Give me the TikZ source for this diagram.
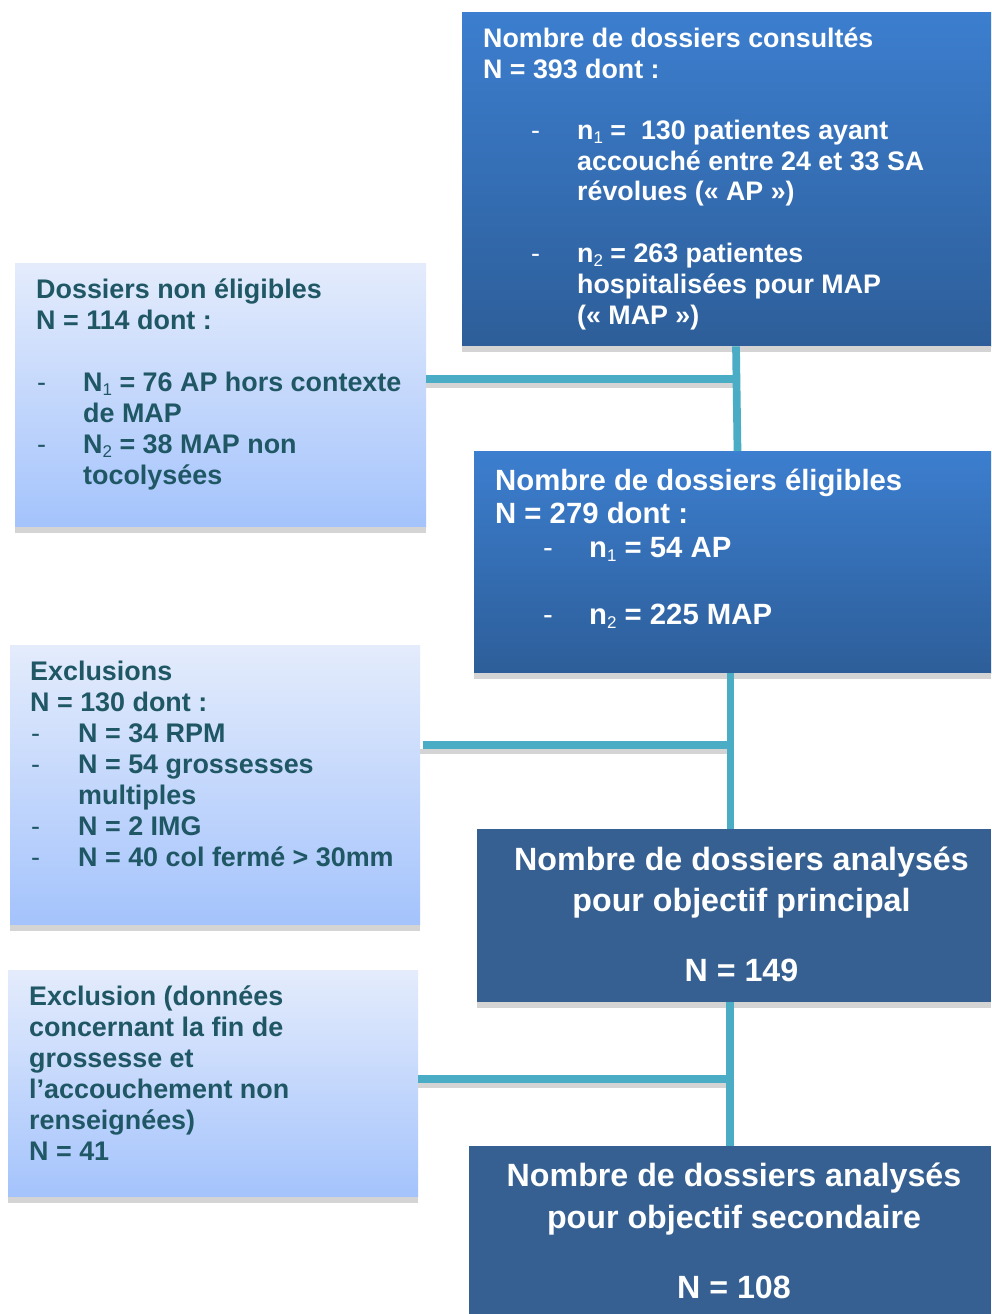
\documentclass[tikz,border=0pt]{standalone}
\usepackage{fontspec}
\setmainfont{Liberation Sans}
\definecolor{dbtop}{RGB}{60,126,207}
\definecolor{dbbot}{RGB}{45,94,153}
\definecolor{anblue}{RGB}{54,96,146}
\definecolor{lbtop}{RGB}{228,236,252}
\definecolor{lbbot}{RGB}{164,195,252}
\definecolor{tealtext}{RGB}{31,87,101}
\definecolor{shadowgray}{RGB}{212,212,212}
\definecolor{conncol}{RGB}{75,172,198}
\newcommand\sbn[1]{\raisebox{-0.14em}{\fontsize{17}{17}\selectfont\mdseries #1}}
\newcommand\dashit[2]{\hspace*{#1}\makebox[#2][l]{\mdseries -}}
\tikzset{
  darkbox/.style={rectangle, inner sep=0pt, draw=none, top color=dbtop, bottom color=dbbot, anchor=north west},
  flatbox/.style={rectangle, inner sep=0pt, draw=none, fill=anblue, anchor=north west},
  lightbox/.style={rectangle, inner sep=0pt, draw=none, top color=lbtop, bottom color=lbbot, anchor=north west},
  wtext/.style={text=white, inner sep=0pt},
  ttext/.style={text=tealtext, inner sep=0pt, anchor=north west, align=left},
  conn/.style={draw=conncol, line width=7.7pt},
  cshadow/.style={draw=shadowgray, line width=5pt},
  bshadow/.style={fill=shadowgray}
}
\begin{document}
\begin{tikzpicture}[x=1pt,y=-1pt]
\useasboundingbox (0,0) rectangle (991,1314);
\fill[white] (0,0) rectangle (991,1314);

% boxes
\node[darkbox, minimum width=529pt, minimum height=334pt] (b1) at (462,12) {};
\node[lightbox, minimum width=411pt, minimum height=264pt] (b2) at (15,263) {};
\node[darkbox, minimum width=517pt, minimum height=222pt] (b3) at (474,451) {};
\node[lightbox, minimum width=410pt, minimum height=280pt] (b4) at (10,645) {};
\node[flatbox, minimum width=514pt, minimum height=173pt] (b5) at (477,829) {};
\node[lightbox, minimum width=410pt, minimum height=227pt] (b6) at (8,970) {};
\node[flatbox, minimum width=522pt, minimum height=170pt] (b7) at (469,1146) {};

% box shadows
\foreach \b in {b1,b2,b3,b4,b5,b6}{
  \fill[bshadow] (\b.south west) rectangle ([yshift=-5.5pt]\b.south east);
}

% connectors
\coordinate (j1) at (736,379);
\coordinate (j2) at (730.5,745.3);
\coordinate (j3) at (730,1079.3);
\draw[cshadow] (b2.east |- 0,385.5) -- (j1 |- 0,385.5);
\draw[conn] (b2.east |- j1) -- (j1);
\draw[conn] (b1.south -| 736,0) -- (b3.north -| 737.5,0);
\draw[cshadow] (b4.east |- 0,751.5) -- (j2 |- 0,751.5);
\draw[conn] ([xshift=2.5pt]b4.east |- j2) -- (j2);
\draw[conn] (b3.south -| j2) -- (b5.north -| j2);
\draw[cshadow] (b6.east |- 0,1085.5) -- (j3 |- 0,1085.5);
\draw[conn] (b6.east |- j3) -- (j3);
\draw[conn] (b5.south -| j3) -- (b7.north -| j3);

% texts
\node[wtext, anchor=north west, align=left, font=\fontsize{26.8}{30.8}\selectfont\bfseries] (t1) at (483,26) {\strut Nombre de dossiers consultés\\
N = 393 dont :\\[30pt]
\dashit{48pt}{46pt}n\sbn{1} = \ 130 patientes ayant\\
\hspace*{94pt}accouché entre 24 et 33 SA\\
\hspace*{94pt}révolues (« AP »)\\[31pt]
\dashit{48pt}{46pt}n\sbn{2} = 263 patientes\\
\hspace*{94pt}hospitalisées pour MAP\\
\hspace*{94pt}(« MAP »)};

\node[ttext, font=\fontsize{26.9}{31}\selectfont\bfseries] (t2) at (36,276.6) {\strut Dossiers non éligibles\\
N = 114 dont :\\[31pt]
\dashit{1pt}{46pt}N\sbn{1} = 76 AP hors contexte\\
\hspace*{47pt}de MAP\\
\dashit{1pt}{46pt}N\sbn{2} = 38 MAP non\\
\hspace*{47pt}tocolysées};

\node[wtext, anchor=north west, align=left, font=\fontsize{29.3}{33.5}\selectfont\bfseries] (t3) at (495,466.5) {\strut Nombre de dossiers éligibles\\
N = 279 dont :\\
\dashit{48pt}{46pt}n\sbn{1} = 54 AP\\[33.5pt]
\dashit{48pt}{46pt}n\sbn{2} = 225 MAP};

\node[ttext, font=\fontsize{26.9}{31}\selectfont\bfseries] (t4) at (30,658.3) {\strut Exclusions\\
N = 130 dont :\\
\dashit{1pt}{47pt}N = 34 RPM\\
\dashit{1pt}{47pt}N = 54 grossesses\\
\hspace*{48pt}multiples\\
\dashit{1pt}{47pt}N = 2 IMG\\
\dashit{1pt}{47pt}N = 40 col fermé > 30mm};

\node[wtext, anchor=north, align=center, font=\fontsize{32.2}{41.7}\selectfont\bfseries] (t5) at (741.5,840.8) {\strut Nombre de dossiers analysés\\
pour objectif principal\\[27.5pt]
N = 149};

\node[ttext, font=\fontsize{26.9}{31}\selectfont\bfseries] (t6) at (29,983.3) {\strut Exclusion (données\\
concernant la fin de\\
grossesse et\\
l’accouchement non\\
renseignées)\\
N = 41};

\node[wtext, anchor=north, align=center, font=\fontsize{32.2}{42.3}\selectfont\bfseries] (t7) at (734,1156.4) {\strut Nombre de dossiers analysés\\
pour objectif secondaire\\[27.5pt]
N = 108};
\end{tikzpicture}
\end{document}
